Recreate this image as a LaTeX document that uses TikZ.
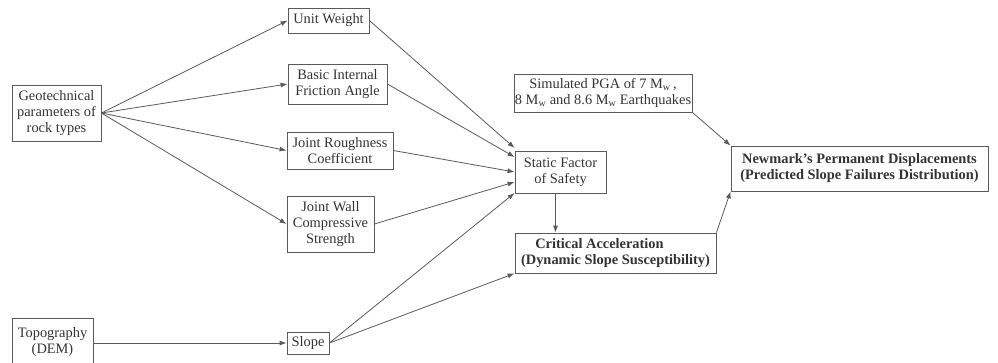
\documentclass[tikz,border=0pt]{standalone}
\usepackage{fontspec}
\setmainfont{Liberation Serif}
\usetikzlibrary{arrows.meta}
\definecolor{linec}{HTML}{5A5A5A}
\definecolor{textc}{HTML}{333333}
\begin{document}
\begin{tikzpicture}[x=1pt,y=-1pt,
  box/.style={draw=linec, line width=0.8pt, inner sep=0pt, align=center,
    text=textc, font=\fontsize{14.4}{16}\selectfont},
  arr/.style={draw=linec, line width=0.8pt, -{Latex[length=7pt,width=5pt]}},
  ln/.style={draw=linec, line width=0.8pt}]
\useasboundingbox (0,0) rectangle (998,362);
\begin{scope}
\clip (0,0) rectangle (998,362);
\node[box, minimum width=89pt, minimum height=56pt] (geo) at (56.5,113) {Geotechnical\\parameters of\\rock types};
\node[box, minimum width=81pt, minimum height=25pt] (uw) at (328.5,20.5) {Unit Weight};
\node[box, minimum width=99pt, minimum height=40pt] (bif) at (337.5,84) {Basic Internal\\Friction Angle};
\node[box, minimum width=106pt, minimum height=37pt] (jrc) at (340,150.5) {Joint Roughness\\Coefficient};
\node[box, minimum width=87pt, minimum height=56pt] (jwcs) at (330.5,224) {Joint Wall\\Compressive\\Strength};
\node[box, minimum width=81pt, minimum height=48pt] (topo) at (52.5,342) {Topography\\(DEM)};
\node[box, minimum width=42pt, minimum height=22pt] (slope) at (308,343) {Slope};
\node[box, minimum width=178pt, minimum height=38pt] (pga) at (603,93) {Simulated PGA of 7 M\textsubscript{w}\,,\\8 M\textsubscript{w} and 8.6 M\textsubscript{w} Earthquakes};
\node[box, minimum width=91pt, minimum height=42pt] (sf) at (560.5,172) {Static Factor\\of Safety};
\node[box, minimum width=201pt, minimum height=40pt, font=\fontsize{14.4}{16}\selectfont\bfseries] (ca) at (615.5,253) {Critical Acceleration\hspace*{32pt}\\(Dynamic Slope Susceptibility)};
\node[box, minimum width=257pt, minimum height=45pt, font=\fontsize{14.4}{16}\selectfont\bfseries] (nm) at (859.5,168.5) {Newmark’s Permanent Displacements\\(Predicted Slope Failures Distribution)};
\end{scope}
% geotechnical fan
\draw[arr] (geo.east) -- (uw.west);
\draw[arr] (geo.east) -- (bif.west);
\draw[arr] (geo.east) -- (jrc.west);
\draw[arr] (geo.east) -- (jwcs.west);
\draw[arr] (topo.east |- slope.west) -- (slope.west);
% into static factor
\draw[arr] (uw.east) -- ([yshift=24pt]sf.west);
\draw[arr] (bif.east) -- ([yshift=15pt]sf.west);
\draw[arr] (jrc.east) -- ([yshift=0pt]sf.west);
\draw[arr] (jwcs.east) -- ([yshift=-10pt]sf.west);
\draw[arr] (slope.east) -- ([yshift=-21pt]sf.west);
\draw[arr] (slope.east) -- (ca.south west);
\draw[arr] ([xshift=-5pt]sf.south) -- ([xshift=-5pt]sf.south |- ca.north);
\draw[arr] (pga.south east) -- (nm.north west);
\draw[arr] (ca.north east) -- (nm.south west);
\end{tikzpicture}
\end{document}
